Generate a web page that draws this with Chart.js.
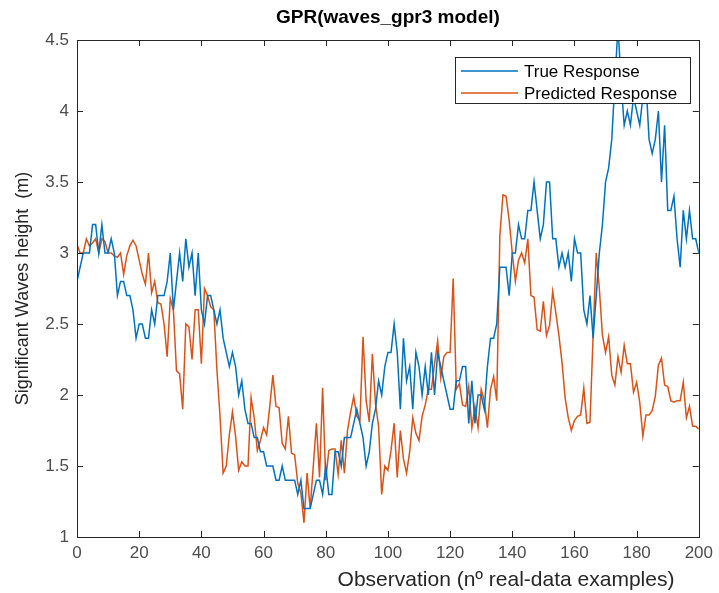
<!DOCTYPE html>
<html>
<head>
<meta charset="utf-8">
<script src="https://cdn.jsdelivr.net/npm/chart.js@4.4.0/dist/chart.umd.min.js"></script>
<style>
  html, body { margin: 0; padding: 0; background: #ffffff; }
  #wrap { width: 719px; height: 593px; }
</style>
</head>
<body>
<div id="wrap"><canvas id="c" width="719" height="593"></canvas></div>
<script>
// ---- Data ----
const chartTitle = "GPR(waves_gpr3 model)";
const xAxisTitle = "Observation (nº real-data examples)";
const yAxisTitle = "Significant Waves height  (m)";
const seriesNames = ["True Response", "Predicted Response"];

const xTicks = [0, 20, 40, 60, 80, 100, 120, 140, 160, 180, 200];
const yTicks = [1, 1.5, 2, 2.5, 3, 3.5, 4, 4.5];

// Observation numbers 0..200
const observations = [];
for (let i = 0; i <= 200; i++) observations.push(i);

const trueResponse = [
  2.8, 2.9, 3.0, 3.0, 3.0, 3.2, 3.2, 3.0, 3.2, 3.0,
  3.0, 3.1, 3.0, 2.7, 2.8, 2.8, 2.7, 2.7, 2.6, 2.4,
  2.5, 2.5, 2.4, 2.4, 2.6, 2.5, 2.7, 2.7, 2.7, 2.8,
  3.0, 2.6, 2.8, 3.0, 2.8, 3.1, 2.9, 3.0, 2.7, 3.0,
  2.6, 2.5, 2.7, 2.7, 2.6, 2.5, 2.6, 2.4, 2.3, 2.2,
  2.3, 2.2, 2.0, 2.1, 1.9, 1.8, 1.8, 1.7, 1.7, 1.6,
  1.6, 1.5, 1.5, 1.5, 1.4, 1.4, 1.5, 1.4, 1.4, 1.4,
  1.4, 1.3, 1.4, 1.2, 1.2, 1.2, 1.3, 1.4, 1.4, 1.3,
  1.5, 1.3, 1.3, 1.6, 1.6, 1.5, 1.7, 1.7, 1.7, 1.8,
  1.9, 1.8, 1.7, 1.5, 1.6, 1.8, 1.9, 2.1, 2.0, 2.2,
  2.3, 2.3, 2.5, 2.3, 1.9, 2.4, 2.1, 2.2, 1.9, 2.3,
  2.2, 2.0, 2.2, 2.0, 2.3, 2.0, 2.3, 2.2, 2.1, 2.0,
  1.9, 1.9, 2.1, 2.1, 2.2, 2.2, 1.8, 2.1, 1.8, 2.0,
  2.0, 1.9, 2.2, 2.4, 2.4, 2.5, 2.9, 2.9, 2.9, 2.7,
  3.0, 3.0, 3.2, 3.1, 3.1, 3.3, 3.3, 3.5, 3.3, 3.1,
  3.2, 3.5, 3.5, 3.1, 3.1, 2.9, 3.0, 2.9, 3.0, 2.8,
  3.1, 3.0, 3.0, 2.6, 2.5, 2.7, 2.4, 2.7, 3.0, 3.2,
  3.5, 3.6, 3.8, 4.2, 4.6, 4.2, 3.9, 4.0, 3.9, 4.1,
  4.0, 3.9, 4.1, 4.2, 3.8, 3.7, 3.8, 4.0, 3.5, 3.9,
  3.3, 3.3, 3.4, 3.1, 2.9, 3.3, 3.1, 3.3, 3.1, 3.1,
  3.0
];

const predictedResponse = [
  3.06, 3.0, 3.0, 3.1, 3.05, 3.07, 3.1, 3.0, 3.1, 3.08,
  3.0, 3.0, 2.98, 2.97, 3.0, 2.85, 2.98, 3.05, 3.09, 3.05,
  2.95, 2.85, 2.78, 3.0, 2.72, 2.8, 2.65, 2.64, 2.5, 2.27,
  2.68, 2.6, 2.17, 2.15, 1.9, 2.5, 2.48, 2.25, 2.6, 2.6,
  2.22, 2.75, 2.7, 2.62, 2.6, 2.18, 1.85, 1.45, 1.5, 1.72,
  1.88, 1.71, 1.47, 1.53, 1.5, 1.5, 1.98, 1.84, 1.61, 1.68,
  1.77, 1.72, 1.92, 2.14, 1.92, 1.91, 1.66, 1.62, 1.85, 1.59,
  1.58, 1.38, 1.31, 1.1, 1.45, 1.2, 1.5, 1.8, 1.42, 2.05,
  1.4, 1.61, 1.62, 1.62, 1.44, 1.68, 1.45, 1.75, 1.88, 1.99,
  1.85, 1.82, 2.41, 1.96, 1.81, 2.29, 1.94, 1.78, 1.3, 1.5,
  1.47, 1.61, 1.8, 1.42, 1.75, 1.55, 1.45, 1.6, 1.84, 1.73,
  1.68, 1.85, 1.93, 2.04, 2.04, 2.22, 2.38, 2.12, 2.27, 2.3,
  2.3, 2.82, 2.04, 2.08, 1.93, 1.92, 2.06, 1.77, 1.92, 1.77,
  2.04, 1.96, 1.77, 2.04, 2.13, 1.96, 3.12, 3.41, 3.4, 3.23,
  3.0, 2.8, 2.95, 3.0, 2.93, 3.1, 2.7, 2.69, 2.46, 2.45,
  2.66, 2.42, 2.49, 2.73, 2.58, 2.42, 2.23, 1.98, 1.84, 1.75,
  1.82, 1.85, 1.86, 2.05, 1.8, 1.81, 2.42, 3.0, 2.75, 2.42,
  2.3, 2.41, 2.14, 2.07, 2.27, 2.16, 2.35, 2.22, 2.22, 2.02,
  2.09, 1.95, 1.71, 1.86, 1.86, 1.89, 1.99, 2.21, 2.26, 2.07,
  2.06, 1.96, 1.95, 1.96, 1.96, 2.09, 1.84, 1.92, 1.78, 1.78,
  1.76
];

const colors = ["#0072BD", "#D95319"];

// ---- Helpers ----
function toPoints(xs, ys) { return xs.map((x, i) => ({ x: x, y: ys[i] })); }

const FONT = "'Liberation Sans', Arial, Helvetica, sans-serif";
const AXIS_COLOR = "#262626";
const TEXT_COLOR = "#262626";

const matlabLook = {
  id: "matlabLook",
  afterDatasetsDraw(chart) {
    const ctx = chart.ctx;
    const a = chart.chartArea;
    const xs = chart.scales.x, ys = chart.scales.y;
    ctx.save();
    // box
    ctx.strokeStyle = AXIS_COLOR;
    ctx.lineWidth = 1;
    ctx.strokeRect(Math.round(a.left) + 0.5, Math.round(a.top) + 0.5,
                   Math.round(a.right - a.left), Math.round(a.bottom - a.top));
    // inward ticks
    const tl = 6;
    ctx.beginPath();
    xTicks.forEach(v => {
      const px = Math.round(xs.getPixelForValue(v)) + 0.5;
      ctx.moveTo(px, a.bottom); ctx.lineTo(px, a.bottom - tl);
      ctx.moveTo(px, a.top); ctx.lineTo(px, a.top + tl);
    });
    yTicks.forEach(v => {
      const py = Math.round(ys.getPixelForValue(v)) + 0.5;
      ctx.moveTo(a.left, py); ctx.lineTo(a.left + tl, py);
      ctx.moveTo(a.right, py); ctx.lineTo(a.right - tl, py);
    });
    ctx.stroke();

    // legend (inside plot, top right)
    const lx = 455, ly = 57, lw = 235, lh = 46;
    ctx.fillStyle = "#ffffff";
    ctx.fillRect(lx, ly, lw, lh);
    ctx.strokeStyle = AXIS_COLOR;
    ctx.strokeRect(lx + 0.5, ly + 0.5, lw, lh);
    const rows = [ly + 14, ly + 36];
    ctx.font = "17px " + FONT;
    ctx.textBaseline = "middle";
    ctx.textAlign = "left";
    seriesNames.forEach((name, k) => {
      ctx.strokeStyle = colors[k];
      ctx.lineWidth = 1.5;
      ctx.beginPath();
      ctx.moveTo(lx + 6, rows[k]); ctx.lineTo(lx + 63, rows[k]);
      ctx.stroke();
      ctx.fillStyle = "#000000";
      ctx.fillText(name, lx + 69, rows[k] + 1);
    });

    // title
    ctx.fillStyle = "#000000";
    ctx.font = "bold 19px " + FONT;
    ctx.textAlign = "center";
    ctx.textBaseline = "middle";
    ctx.fillText(chartTitle, (a.left + a.right) / 2, 18);

    // x axis title
    ctx.fillStyle = TEXT_COLOR;
    ctx.font = "21px " + FONT;
    ctx.textAlign = "center";
    ctx.fillText(xAxisTitle, 506, 580);

    // y axis title
    ctx.save();
    ctx.translate(23, (a.top + a.bottom) / 2);
    ctx.rotate(-Math.PI / 2);
    ctx.font = "18px " + FONT;
    ctx.textAlign = "center";
    ctx.textBaseline = "middle";
    ctx.fillText(yAxisTitle, 0, 0);
    ctx.restore();

    ctx.restore();
  }
};

new Chart(document.getElementById("c"), {
  type: "line",
  data: {
    datasets: [
      { label: seriesNames[0], data: toPoints(observations, trueResponse),
        borderColor: colors[0], backgroundColor: colors[0], borderWidth: 1.5,
        pointRadius: 0, tension: 0, fill: false },
      { label: seriesNames[1], data: toPoints(observations, predictedResponse),
        borderColor: colors[1], backgroundColor: colors[1], borderWidth: 1.5,
        pointRadius: 0, tension: 0, fill: false }
    ]
  },
  options: {
    responsive: false,
    animation: false,
    devicePixelRatio: 1,
    layout: { padding: { top: 40, right: 14, left: 0, bottom: 0 } },
    plugins: { legend: { display: false }, title: { display: false }, tooltip: { enabled: false } },
    scales: {
      x: {
        type: "linear", min: 0, max: 200,
        afterBuildTicks: s => { s.ticks = xTicks.map(v => ({ value: v })); },
        afterFit: s => { s.height = 56; },
        grid: { display: false, drawTicks: false },
        border: { display: false },
        ticks: { color: "#4d4d4d", font: { size: 17, family: FONT }, padding: 6, maxRotation: 0,
                 callback: v => String(v) }
      },
      y: {
        type: "linear", min: 1, max: 4.5,
        afterBuildTicks: s => { s.ticks = yTicks.map(v => ({ value: v })); },
        afterFit: s => { s.width = 77; },
        grid: { display: false, drawTicks: false },
        border: { display: false },
        ticks: { color: "#4d4d4d", font: { size: 17, family: FONT }, padding: 8,
                 callback: v => String(v) }
      }
    }
  },
  plugins: [matlabLook]
});
</script>
</body>
</html>
